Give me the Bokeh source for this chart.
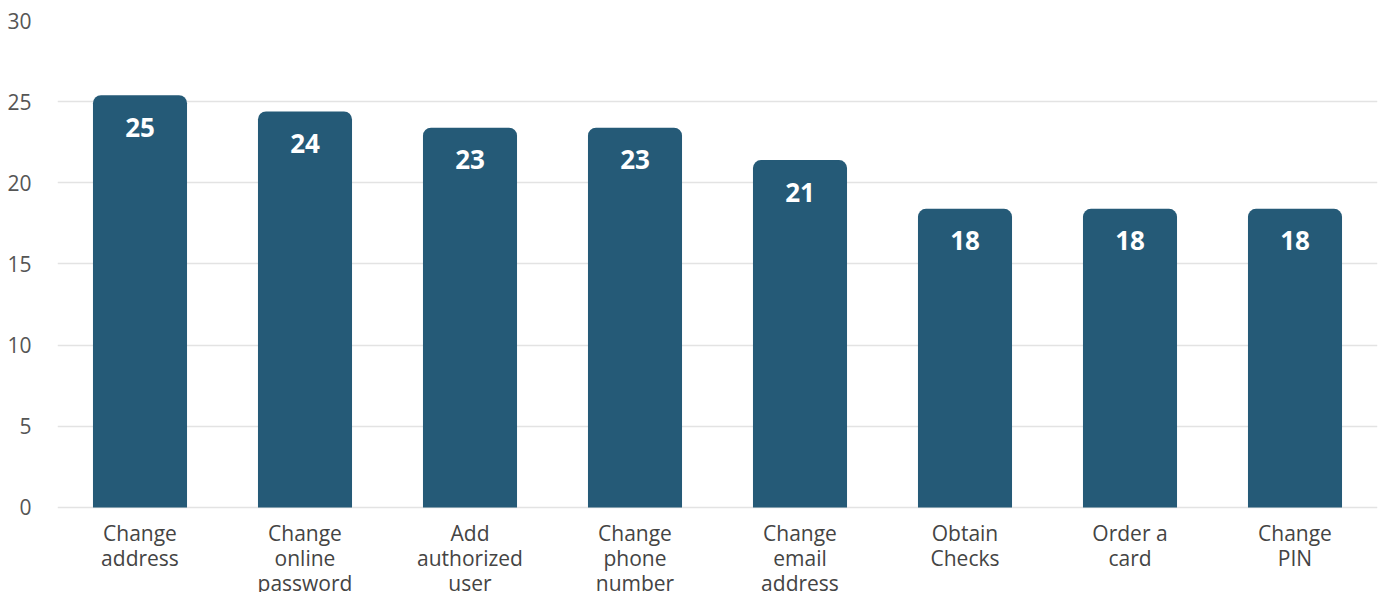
from bokeh.plotting import figure
from bokeh.models import ColumnDataSource, LabelSet, FactorRange, Range1d
from bokeh.core.properties import value
from bokeh.embed import file_html
from bokeh.resources import INLINE

categories = ["Change address", "Change online password", "Add authorized user",
              "Change phone number", "Change email address", "Obtain Checks",
              "Order a card", "Change PIN"]
label_line1 = ["Change", "Change", "Add", "Change", "Change", "Obtain", "Order a", "Change"]
label_line2 = ["address", "online", "authorized", "phone", "email", "Checks", "card", "PIN"]
label_line3 = ["", "password", "user", "number", "address", "", "", ""]
values = [25.4, 24.4, 23.4, 23.4, 21.4, 18.4, 18.4, 18.4]
value_labels = ["25", "24", "23", "23", "21", "18", "18", "18"]
y_ticks = [0, 5, 10, 15, 20, 25, 30]

FONT = "Open Sans"
BAR = "#255a77"

zero = [0] * len(categories)
src = ColumnDataSource(dict(cat=categories, val=values, lab=value_labels,
                            l1=label_line1, l2=label_line2, l3=label_line3, zero=zero))

# frame extends below zero so that category labels drawn under the bars are not clipped
p = figure(x_range=FactorRange(*categories, range_padding=0), y_range=Range1d(-5.24, 30),
           width=1380, height=592, output_backend="svg", toolbar_location=None,
           min_border_left=57, min_border_right=3, min_border_top=20, min_border_bottom=0)
p.outline_line_color = None
p.background_fill_color = "white"
p.border_fill_color = "white"

p.vbar(x="cat", top="val", bottom=0, width=0.57, source=src, fill_color=BAR, line_color=None,
       border_radius=(8, 8, 0, 0))

labels = LabelSet(x="cat", y="val", text="lab", source=src, y_offset=-32,
                  text_align="center", text_baseline="middle", text_color="white",
                  text_font=value(FONT), text_font_style="bold", text_font_size="26px")
p.add_layout(labels)

for col, off in (("l1", -26), ("l2", -51), ("l3", -76)):
    p.add_layout(LabelSet(x="cat", y="zero", text=col, source=src, y_offset=off,
                          text_align="center", text_baseline="middle", text_color="#444444",
                          text_font=value(FONT), text_font_size="21px"))

p.xaxis.visible = False

p.yaxis.ticker = y_ticks
p.yaxis.axis_line_color = None
p.yaxis.major_tick_line_color = None
p.yaxis.minor_tick_line_color = None
p.yaxis.major_label_text_font = FONT
p.yaxis.major_label_text_font_size = "21px"
p.yaxis.major_label_text_color = "#555555"
p.yaxis.major_label_standoff = 20

p.xgrid.grid_line_color = None
p.ygrid.grid_line_color = "#e3e3e3"
p.ygrid.grid_line_width = 1.5

open("out.html", "w").write(file_html(p, INLINE))
